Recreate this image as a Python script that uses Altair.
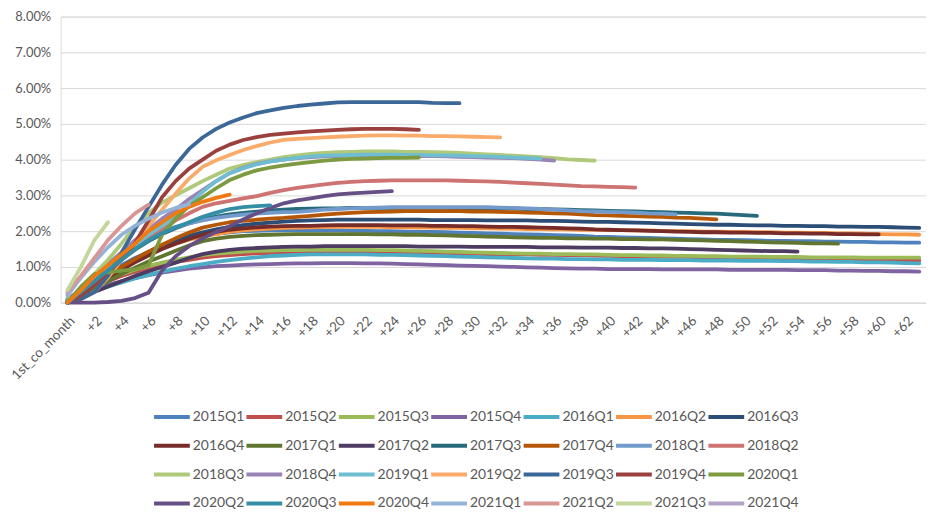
import altair as alt
import pandas as pd

# Category axis labels
cats = ["1st_co_month"] + ["+" + str(i) for i in range(1, 64)]

series_names = [
    "2015Q1", "2015Q2", "2015Q3", "2015Q4", "2016Q1", "2016Q2", "2016Q3",
    "2016Q4", "2017Q1", "2017Q2", "2017Q3", "2017Q4", "2018Q1", "2018Q2",
    "2018Q3", "2018Q4", "2019Q1", "2019Q2", "2019Q3", "2019Q4", "2020Q1",
    "2020Q2", "2020Q3", "2020Q4", "2021Q1", "2021Q2", "2021Q3", "2021Q4",
]

colors = [
    "#4F81BD", "#C0504D", "#9BBB59", "#8064A2", "#4BACC6", "#F79646", "#2C4D75",
    "#772C2A", "#5F7530", "#4D3B62", "#276A7C", "#B65708", "#729ACA", "#CD7371",
    "#AFC97A", "#9983B5", "#6FBDD1", "#F9AB6B", "#3C6899", "#9A403E", "#7C9A3F",
    "#664F84", "#348EA5", "#F07A12", "#95B3D7", "#D99694", "#C3D69B", "#B3A2C7",
]

# values in percent
s2015Q1 = [0.10, 0.35, 0.60, 0.85, 1.05, 1.25, 1.42, 1.57, 1.70, 1.80,
           1.88, 1.93, 1.97, 2.00, 2.01, 2.02, 2.02, 2.02, 2.02, 2.02,
           2.02, 2.01, 2.01, 2.00, 2.00, 1.99, 1.98, 1.98, 1.97, 1.96,
           1.95, 1.94, 1.93, 1.92, 1.91, 1.90, 1.89, 1.88, 1.87, 1.85,
           1.84, 1.83, 1.82, 1.81, 1.80, 1.79, 1.78, 1.77, 1.76, 1.76,
           1.75, 1.74, 1.73, 1.73, 1.72, 1.72, 1.71, 1.71, 1.70, 1.70,
           1.69, 1.69, 1.68, 1.68]
s2015Q2 = [0.05, 0.25, 0.45, 0.60, 0.75, 0.87, 0.97, 1.06, 1.14, 1.20,
           1.26, 1.30, 1.33, 1.36, 1.38, 1.39, 1.40, 1.41, 1.41, 1.41,
           1.41, 1.41, 1.41, 1.40, 1.40, 1.40, 1.39, 1.39, 1.38, 1.38,
           1.37, 1.36, 1.36, 1.35, 1.35, 1.34, 1.34, 1.33, 1.33, 1.32,
           1.31, 1.30, 1.30, 1.29, 1.29, 1.28, 1.28, 1.27, 1.27, 1.26,
           1.26, 1.25, 1.25, 1.24, 1.24, 1.23, 1.23, 1.22, 1.22, 1.21,
           1.20, 1.19, 1.19, 1.18]
s2015Q3 = [0.10, 0.30, 0.50, 0.65, 0.80, 0.92, 1.03, 1.12, 1.20, 1.27,
           1.33, 1.37, 1.40, 1.43, 1.45, 1.46, 1.47, 1.47, 1.48, 1.48,
           1.48, 1.48, 1.48, 1.47, 1.47, 1.46, 1.45, 1.44, 1.43, 1.42,
           1.41, 1.40, 1.39, 1.38, 1.37, 1.37, 1.36, 1.36, 1.35, 1.35,
           1.34, 1.33, 1.33, 1.32, 1.32, 1.31, 1.31, 1.30, 1.30, 1.29,
           1.29, 1.29, 1.28, 1.28, 1.28, 1.27, 1.27, 1.27, 1.27, 1.26,
           1.26, 1.26, 1.26, 1.26]
s2015Q4 = [0.05, 0.20, 0.36, 0.50, 0.60, 0.69, 0.77, 0.84, 0.90, 0.95,
           0.99, 1.02, 1.04, 1.06, 1.07, 1.08, 1.09, 1.10, 1.10, 1.11,
           1.11, 1.11, 1.10, 1.10, 1.09, 1.08, 1.07, 1.06, 1.05, 1.04,
           1.03, 1.02, 1.01, 1.00, 0.99, 0.98, 0.97, 0.96, 0.95, 0.95,
           0.94, 0.94, 0.94, 0.94, 0.93, 0.93, 0.93, 0.93, 0.93, 0.92,
           0.92, 0.92, 0.92, 0.92, 0.91, 0.91, 0.91, 0.90, 0.90, 0.89,
           0.89, 0.88, 0.88, 0.87]
s2016Q1 = [0.05, 0.18, 0.32, 0.45, 0.57, 0.68, 0.78, 0.87, 0.95, 1.02,
           1.08, 1.14, 1.19, 1.23, 1.27, 1.30, 1.32, 1.34, 1.35, 1.35,
           1.35, 1.35, 1.35, 1.34, 1.34, 1.33, 1.32, 1.31, 1.30, 1.29,
           1.28, 1.27, 1.26, 1.25, 1.24, 1.23, 1.23, 1.22, 1.22, 1.21,
           1.21, 1.20, 1.20, 1.20, 1.19, 1.19, 1.19, 1.18, 1.18, 1.18,
           1.17, 1.17, 1.17, 1.16, 1.16, 1.15, 1.15, 1.14, 1.14, 1.13,
           1.13, 1.12, 1.11, 1.10]
s2016Q2 = [0.00, 0.20, 0.45, 0.70, 0.95, 1.15, 1.35, 1.52, 1.65, 1.76,
           1.85, 1.92, 1.98, 2.02, 2.05, 2.07, 2.09, 2.10, 2.11, 2.12,
           2.12, 2.12, 2.12, 2.12, 2.11, 2.11, 2.10, 2.10, 2.09, 2.09,
           2.08, 2.08, 2.07, 2.07, 2.06, 2.06, 2.05, 2.05, 2.04, 2.04,
           2.03, 2.03, 2.02, 2.02, 2.01, 2.00, 2.00, 1.99, 1.99, 1.98,
           1.98, 1.97, 1.97, 1.96, 1.96, 1.95, 1.95, 1.94, 1.94, 1.93,
           1.92, 1.91, 1.91, 1.90]
s2016Q3 = [0.00, 0.25, 0.50, 0.75, 1.00, 1.22, 1.42, 1.60, 1.75, 1.87,
           1.97, 2.05, 2.12, 2.17, 2.21, 2.24, 2.27, 2.29, 2.30, 2.31,
           2.32, 2.32, 2.32, 2.32, 2.32, 2.32, 2.32, 2.31, 2.31, 2.31,
           2.31, 2.30, 2.30, 2.30, 2.30, 2.29, 2.29, 2.28, 2.27, 2.26,
           2.26, 2.25, 2.24, 2.23, 2.22, 2.21, 2.20, 2.19, 2.18, 2.18,
           2.17, 2.16, 2.16, 2.15, 2.15, 2.14, 2.14, 2.13, 2.13, 2.12,
           2.12, 2.11, 2.10, 2.09]
s2016Q4 = [0.00, 0.22, 0.45, 0.70, 0.92, 1.13, 1.32, 1.50, 1.65, 1.78,
           1.90, 1.98, 2.04, 2.08, 2.11, 2.13, 2.14, 2.15, 2.15, 2.16,
           2.17, 2.17, 2.17, 2.17, 2.16, 2.16, 2.16, 2.15, 2.15, 2.14,
           2.14, 2.13, 2.12, 2.12, 2.11, 2.10, 2.09, 2.08, 2.07, 2.05,
           2.04, 2.03, 2.02, 2.01, 2.00, 1.99, 1.98, 1.97, 1.97, 1.96,
           1.96, 1.95, 1.95, 1.94, 1.94, 1.93, 1.93, 1.92, 1.92, 1.91,
           1.91]
s2017Q1 = [0.00, 0.20, 0.40, 0.60, 0.80, 0.98, 1.15, 1.30, 1.45, 1.60,
           1.72, 1.79, 1.84, 1.87, 1.89, 1.90, 1.91, 1.92, 1.92, 1.92,
           1.92, 1.92, 1.92, 1.91, 1.91, 1.90, 1.90, 1.89, 1.88, 1.87,
           1.86, 1.85, 1.84, 1.83, 1.82, 1.81, 1.81, 1.80, 1.80, 1.79,
           1.79, 1.78, 1.78, 1.77, 1.77, 1.76, 1.75, 1.74, 1.73, 1.72,
           1.71, 1.70, 1.69, 1.68, 1.67, 1.66, 1.66, 1.65]
s2017Q2 = [0.00, 0.15, 0.30, 0.45, 0.60, 0.75, 0.88, 1.00, 1.12, 1.25,
           1.36, 1.43, 1.48, 1.51, 1.53, 1.55, 1.56, 1.57, 1.57, 1.58,
           1.58, 1.58, 1.58, 1.58, 1.58, 1.58, 1.57, 1.57, 1.57, 1.57,
           1.56, 1.56, 1.56, 1.56, 1.56, 1.55, 1.55, 1.55, 1.54, 1.54,
           1.54, 1.53, 1.53, 1.52, 1.52, 1.51, 1.50, 1.49, 1.48, 1.47,
           1.46, 1.45, 1.44, 1.44, 1.43]
s2017Q3 = [0.00, 0.30, 0.60, 0.90, 1.20, 1.48, 1.72, 1.92, 2.08, 2.22,
           2.33, 2.41, 2.47, 2.51, 2.55, 2.58, 2.60, 2.62, 2.63, 2.64,
           2.64, 2.65, 2.65, 2.65, 2.65, 2.65, 2.65, 2.65, 2.65, 2.64,
           2.64, 2.64, 2.63, 2.63, 2.62, 2.62, 2.61, 2.60, 2.59, 2.58,
           2.57, 2.56, 2.55, 2.54, 2.53, 2.52, 2.51, 2.50, 2.49, 2.47,
           2.45, 2.43]
s2017Q4 = [0.00, 0.25, 0.50, 0.75, 1.00, 1.22, 1.43, 1.62, 1.80, 1.96,
           2.10, 2.18, 2.25, 2.29, 2.32, 2.35, 2.37, 2.40, 2.43, 2.46,
           2.49, 2.51, 2.53, 2.54, 2.55, 2.56, 2.56, 2.56, 2.56, 2.56,
           2.55, 2.55, 2.54, 2.53, 2.52, 2.51, 2.50, 2.49, 2.47, 2.45,
           2.44, 2.43, 2.42, 2.41, 2.40, 2.38, 2.37, 2.35, 2.33]
s2018Q1 = [0.00, 0.40, 0.75, 1.10, 1.40, 1.65, 1.85, 2.00, 2.12, 2.22,
           2.30, 2.37, 2.42, 2.46, 2.49, 2.51, 2.53, 2.54, 2.57, 2.60,
           2.62, 2.64, 2.65, 2.66, 2.67, 2.67, 2.67, 2.67, 2.67, 2.67,
           2.67, 2.67, 2.66, 2.65, 2.64, 2.62, 2.60, 2.58, 2.56, 2.55,
           2.54, 2.53, 2.52, 2.50, 2.49, 2.47]
s2018Q2 = [0.00, 0.30, 0.60, 0.90, 1.20, 1.50, 1.80, 2.05, 2.30, 2.50,
           2.68, 2.78, 2.85, 2.92, 2.98, 3.07, 3.15, 3.21, 3.26, 3.31,
           3.35, 3.38, 3.40, 3.41, 3.42, 3.42, 3.42, 3.42, 3.42, 3.41,
           3.40, 3.39, 3.38, 3.36, 3.34, 3.32, 3.30, 3.28, 3.26, 3.25,
           3.24, 3.23, 3.22]
s2018Q3 = [0.00, 0.40, 0.80, 1.20, 1.65, 2.13, 2.50, 2.80, 3.00, 3.20,
           3.40, 3.58, 3.75, 3.85, 3.93, 4.00, 4.07, 4.12, 4.16, 4.19,
           4.21, 4.22, 4.23, 4.23, 4.23, 4.22, 4.22, 4.21, 4.20, 4.19,
           4.17, 4.15, 4.13, 4.11, 4.09, 4.07, 4.04, 4.01, 3.99, 3.97]
s2018Q4 = [0.00, 0.35, 0.70, 1.05, 1.40, 1.75, 2.05, 2.35, 2.60, 2.90,
           3.15, 3.40, 3.62, 3.77, 3.88, 3.95, 4.00, 4.04, 4.07, 4.09,
           4.10, 4.11, 4.11, 4.11, 4.11, 4.10, 4.10, 4.10, 4.09, 4.08,
           4.07, 4.06, 4.05, 4.04, 4.02, 4.00, 3.97]
s2019Q1 = [0.00, 0.30, 0.60, 0.95, 1.30, 1.60, 1.90, 2.15, 2.40, 2.75,
           3.10, 3.40, 3.62, 3.76, 3.87, 3.95, 4.00, 4.05, 4.09, 4.11,
           4.12, 4.13, 4.14, 4.14, 4.14, 4.13, 4.13, 4.12, 4.12, 4.11,
           4.10, 4.09, 4.08, 4.06, 4.05, 4.03]
s2019Q2 = [0.00, 0.10, 0.30, 0.70, 1.20, 1.67, 2.15, 2.60, 3.05, 3.47,
           3.80, 3.98, 4.13, 4.27, 4.38, 4.48, 4.55, 4.58, 4.60, 4.62,
           4.64, 4.66, 4.67, 4.68, 4.68, 4.67, 4.67, 4.66, 4.66, 4.65,
           4.64, 4.63, 4.62]
s2019Q3 = [0.00, 0.10, 0.30, 0.75, 1.40, 2.05, 2.68, 3.30, 3.85, 4.30,
           4.62, 4.86, 5.04, 5.18, 5.30, 5.38, 5.45, 5.50, 5.54, 5.57,
           5.60, 5.61, 5.61, 5.61, 5.61, 5.61, 5.61, 5.59, 5.58, 5.58]
s2019Q4 = [0.00, 0.20, 0.50, 0.85, 1.20, 1.67, 2.30, 2.95, 3.40, 3.75,
           4.00, 4.25, 4.42, 4.55, 4.63, 4.69, 4.73, 4.76, 4.79, 4.81,
           4.83, 4.85, 4.86, 4.86, 4.86, 4.85, 4.83]
s2020Q1 = [0.00, 0.45, 0.80, 0.85, 0.90, 0.93, 1.05, 1.90, 2.35, 2.70,
           2.95, 3.20, 3.43, 3.58, 3.70, 3.78, 3.84, 3.89, 3.93, 3.97,
           4.00, 4.02, 4.03, 4.04, 4.05, 4.05, 4.06]
s2020Q2 = [0.00, 0.00, 0.00, 0.02, 0.05, 0.13, 0.28, 0.90, 1.30, 1.58,
           1.80, 1.98, 2.14, 2.33, 2.50, 2.65, 2.78, 2.86, 2.92, 2.98,
           3.03, 3.06, 3.08, 3.10, 3.12]
s2020Q3 = [0.00, 0.30, 0.60, 0.90, 1.20, 1.50, 1.75, 1.95, 2.10, 2.25,
           2.40, 2.52, 2.62, 2.67, 2.70, 2.72]
s2020Q4 = [0.00, 0.35, 0.75, 1.05, 1.35, 1.65, 2.00, 2.25, 2.50, 2.68,
           2.82, 2.93, 3.02]
s2021Q1 = [0.20, 0.70, 1.15, 1.55, 1.90, 2.15, 2.35, 2.52, 2.65, 2.75]
s2021Q2 = [0.30, 0.75, 1.25, 1.75, 2.15, 2.50, 2.74]
s2021Q3 = [0.35, 1.00, 1.75, 2.25]
s2021Q4 = [0.25]

series_values = [
    s2015Q1, s2015Q2, s2015Q3, s2015Q4, s2016Q1, s2016Q2, s2016Q3,
    s2016Q4, s2017Q1, s2017Q2, s2017Q3, s2017Q4, s2018Q1, s2018Q2,
    s2018Q3, s2018Q4, s2019Q1, s2019Q2, s2019Q3, s2019Q4, s2020Q1,
    s2020Q2, s2020Q3, s2020Q4, s2021Q1, s2021Q2, s2021Q3, s2021Q4,
]

y_ticks = [0.00, 0.01, 0.02, 0.03, 0.04, 0.05, 0.06, 0.07, 0.08]

rows = []
for name, vals in zip(series_names, series_values):
    for i, v in enumerate(vals):
        rows.append({"series": name, "cat": cats[i], "value": v / 100.0})
df = pd.DataFrame(rows)

FONT = "Lato"
GREY = "#595959"

chart = alt.Chart(df).mark_line(
    strokeWidth=3.8, strokeCap="round", strokeJoin="round"
).encode(
    x=alt.X(
        "cat:O",
        sort=cats,
        scale=alt.Scale(type="point", padding=0.5),
        axis=alt.Axis(
            values=cats[::2],
            labelAngle=-45,
            ticks=False,
            grid=False,
            domainColor="#D9D9D9",
            domainWidth=1,
            labelColor=GREY,
            labelFont=FONT,
            labelFontSize=13.5,
            labelPadding=11,
            title=None,
        ),
    ),
    y=alt.Y(
        "value:Q",
        scale=alt.Scale(domain=[0, 0.08], nice=False),
        axis=alt.Axis(
            values=y_ticks,
            format=".2%",
            domain=False,
            ticks=False,
            grid=True,
            gridColor="#D9D9D9",
            gridWidth=1,
            labelColor=GREY,
            labelFont=FONT,
            labelFontSize=13,
            labelPadding=10,
            title=None,
        ),
    ),
    color=alt.Color(
        "series:N",
        sort=series_names,
        scale=alt.Scale(domain=series_names, range=colors),
        legend=alt.Legend(
            orient="none",
            legendX=92,
            legendY=383,
            direction="horizontal",
            columns=7,
            symbolType="M-1,0H1",
            symbolSize=1296,
            symbolStrokeWidth=4,
            labelFont=FONT,
            labelFontSize=14,
            labelColor=GREY,
            labelOffset=1,
            rowPadding=1,
            columnPadding=-13,
            gridAlign="all",
            symbolLimit=40,
            title=None,
        ),
    ),
).properties(
    width=871,
    height=288,
    padding={"left": 53, "top": 7, "right": 0, "bottom": 207},
    autosize=alt.AutoSizeParams(type="none"),
).configure_view(
    stroke=None
).configure(
    background="white"
)

chart.save("out.html", embed_options={"renderer": "svg", "actions": False})
